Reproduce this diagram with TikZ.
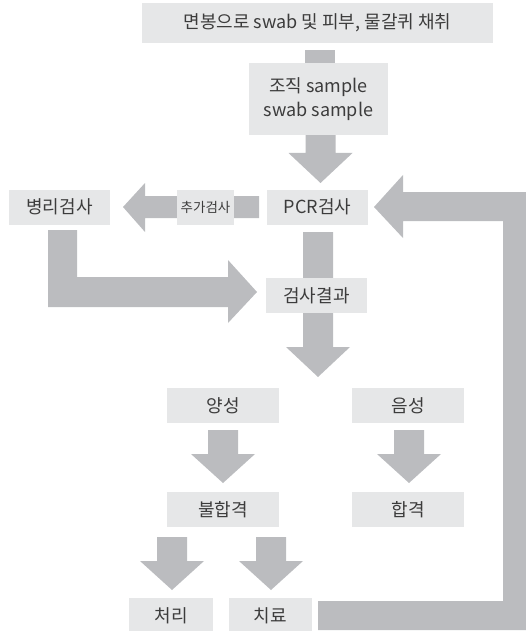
\documentclass[tikz,border=0pt]{standalone}
\usepackage{fontspec}
\setmainfont{Noto Sans CJK KR}
\usetikzlibrary{backgrounds}
\definecolor{boxgray}{HTML}{E6E7E8}
\definecolor{arrgray}{HTML}{BBBCBF}
\definecolor{txtgray}{HTML}{3C3C3C}
\newcommand\fatdown[4]{% cx, ytop, ybase, ytip
  \fill[arr] (#1-15,#2) -- (#1+15,#2) -- (#1+15,#3) -- (#1+32,#3) -- (#1,#4) -- (#1-32,#3) -- (#1-15,#3) -- cycle;}
\begin{document}
\begin{tikzpicture}[x=1pt,y=-1pt,
  box/.style={fill=boxgray, inner sep=0pt, text=txtgray, font=\fontsize{18}{24}\selectfont, align=center, minimum height=35pt},
  arr/.style={fill=arrgray}]
\useasboundingbox (0,0) rectangle (525,631);
% boxes
\node[box, minimum width=351pt, minimum height=40pt] (top) at (317.5,23) {면봉으로 swab 및 피부, 물갈퀴 채취};
\node[box, minimum width=139pt, minimum height=72pt] (sample) at (318.5,99) {조직 sample\\swab sample};
\node[box, minimum width=101pt] (pcr) at (317.5,207) {PCR검사};
\node[box, minimum width=101pt] (patho) at (59.5,207) {병리검사};
\node[box, minimum width=57pt, font=\fontsize{13.5}{16}\selectfont] (extra) at (205.5,207) {추가검사};
\node[box, minimum width=101pt] (result) at (316.5,295.5) {검사결과};
\node[box, minimum width=112pt] (pos) at (223,405.5) {양성};
\node[box, minimum width=112pt] (neg) at (408,405.5) {음성};
\node[box, minimum width=112pt] (fail) at (223,509.5) {불합격};
\node[box, minimum width=112pt] (pass) at (408,509.5) {합격};
\node[box, minimum width=84pt] (dispose) at (171,615.5) {처리};
\node[box, minimum width=83pt] (treat) at (270.5,615.5) {치료};
\begin{pgfonlayer}{background}
% top -> sample stub
\fill[arr] (305,50) rectangle (335,63);
% sample -> pcr
\fatdown{320.5}{135}{153}{183}
% pcr -> patho (left)
\fill[arr] (259,196) -- (145,196) -- (145,183) -- (123,207) -- (145,232) -- (145,218) -- (259,218) -- cycle;
% pcr -> result -> down
\fatdown{318}{232}{347}{377}
% patho -> result (L)
\fill[arr] (48,230) -- (77,230) -- (77,277) -- (228,277) -- (228,260) -- (257,292) -- (228,323) -- (228,307) -- (48,307) -- cycle;
% feedback treat -> pcr
\fill[arr] (318,601) -- (503,601) -- (503,221) -- (403,221) -- (403,238) -- (374,207) -- (403,175) -- (403,192) -- (526,192) -- (526,630) -- (318,630) -- cycle;
% pos -> fail, neg -> pass
\fatdown{223}{430}{454}{483}
\fatdown{409}{430}{454}{483}
% fail -> dispose, treat
\fatdown{172}{537}{561}{590}
\fatdown{271}{537}{561}{590}
\end{pgfonlayer}
\end{tikzpicture}
\end{document}
